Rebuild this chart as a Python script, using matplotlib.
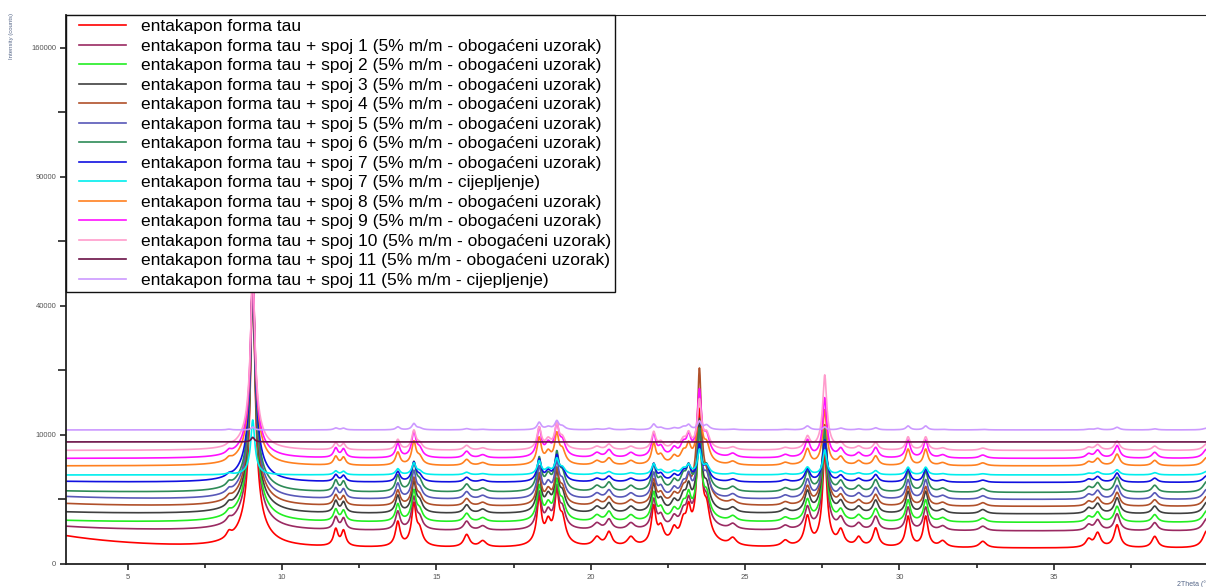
import numpy as np
import matplotlib
matplotlib.use("Agg")
import matplotlib.pyplot as plt
from matplotlib.legend_handler import HandlerLine2D

# ---------------- data ----------------
labels = [
    "entakapon forma tau",
    "entakapon forma tau + spoj 1 (5% m/m - obogaćeni uzorak)",
    "entakapon forma tau + spoj 2 (5% m/m - obogaćeni uzorak)",
    "entakapon forma tau + spoj 3 (5% m/m - obogaćeni uzorak)",
    "entakapon forma tau + spoj 4 (5% m/m - obogaćeni uzorak)",
    "entakapon forma tau + spoj 5 (5% m/m - obogaćeni uzorak)",
    "entakapon forma tau + spoj 6 (5% m/m - obogaćeni uzorak)",
    "entakapon forma tau + spoj 7 (5% m/m - obogaćeni uzorak)",
    "entakapon forma tau + spoj 7 (5% m/m - cijepljenje)",
    "entakapon forma tau + spoj 8 (5% m/m - obogaćeni uzorak)",
    "entakapon forma tau + spoj 9 (5% m/m - obogaćeni uzorak)",
    "entakapon forma tau + spoj 10 (5% m/m - obogaćeni uzorak)",
    "entakapon forma tau + spoj 11 (5% m/m - obogaćeni uzorak)",
    "entakapon forma tau + spoj 11 (5% m/m - cijepljenje)",
]
colors = ["#ff0000", "#9a2a62", "#22ee22", "#404040", "#b0502a", "#5858b8",
          "#2e8b57", "#1010e0", "#00eeee", "#ff8020", "#ff10ff", "#ff9ccc",
          "#6a1046", "#cc99ff"]

# stacking baseline of each pattern (counts, as read on the axis)
baseline_counts = [150, 655, 1037, 1505, 1989, 2500, 3069, 3994, 4761,
                   5776, 6691, 7744, 8949, 10795]
background_counts = 150
low_angle_rise = [330, 100, 40, 40, 60, 60, 30, 20, 0, 0, 0, 0, 0, 0]
minor_scale = [1.0, 0.65, 0.6, 0.6, 0.5, 0.5, 0.55, 0.3, 0.15, 0.4, 0.45,
               0.3, 0.0, 0.07]

# strong reflections: position (°2θ) and height for each pattern
strong_pos = [9.05, 23.52, 27.58]
strong_fwhm = [0.12, 0.12, 0.12]
h_9 = [52750, 46790, 43970, 41240, 38920, 36810, 34760, 31910, 2860,
       27490, 25590, 23640, 100, 60]
h_23 = [14060, 9500, 6900, 7080, 13960, 4220, 3540, 1550, 850,
        4380, 4100, 2490, 0, 200]
h_27 = [7660, 6700, 6250, 6190, 5540, 4220, 3540, 1890, 850,
        2950, 3350, 4850, 0, 60]

# weaker reflections of the tau form (heights of the reference pattern)
peak_pos = [8.28, 11.74, 11.99, 13.75, 14.27, 14.45, 15.98, 16.5, 18.33,
            18.62, 18.90, 19.08, 20.2, 20.59, 21.3, 22.04, 22.27, 22.7,
            23.0, 23.17, 23.75, 24.6, 26.3, 27.02, 28.1, 28.68, 29.23,
            30.28, 30.85, 31.4, 32.7, 36.13, 36.42, 37.05, 38.27, 39.95]
peak_height = [210, 550, 480, 900, 2000, 500, 350, 150, 2500, 850, 3000,
               1000, 250, 430, 250, 1800, 600, 500, 800, 1500, 1500, 200,
               150, 1200, 500, 250, 600, 1200, 1200, 150, 150, 200, 420,
               760, 300, 500]
peak_fwhm = [0.18, 0.15, 0.15, 0.15, 0.14, 0.2, 0.2, 0.25, 0.14, 0.2, 0.14,
             0.2, 0.25, 0.2, 0.25, 0.14, 0.2, 0.2, 0.2, 0.15, 0.2, 0.25,
             0.25, 0.18, 0.2, 0.2, 0.18, 0.15, 0.15, 0.25, 0.25, 0.2, 0.2,
             0.18, 0.2, 0.25]

x_ticks = [5, 10, 15, 20, 25, 30, 35]
y_ticks = [0, 10000, 40000, 90000, 160000]

# ---------------- drawing ----------------
two_theta = np.arange(3.0, 41.0, 0.01)


def lorentz(x, pos, height, fwhm):
    g = fwhm / 2.0
    return height * g * g / ((x - pos) ** 2 + g * g)


plt.rcParams["font.family"] = ["Liberation Sans", "DejaVu Sans"]
fig = plt.figure(figsize=(12.06, 5.87), dpi=100)
ax = fig.add_axes([66 / 1206, 23 / 587, 1173 / 1206, 549 / 587])
ax.set_yscale("function",
              functions=(lambda v: np.sqrt(np.clip(v, 0, None)),
                         lambda v: np.square(v)))

for i in range(len(labels)):
    inten = background_counts + low_angle_rise[i] * np.exp(-(two_theta - 3.0) / 2.0)
    for p, h, w in zip(peak_pos, peak_height, peak_fwhm):
        inten = inten + lorentz(two_theta, p, minor_scale[i] * h, w)
    for p, h, w in zip(strong_pos, [h_9[i], h_23[i], h_27[i]], strong_fwhm):
        inten = inten + lorentz(two_theta, p, h, w)
    shifted = (np.sqrt(baseline_counts[i]) - np.sqrt(background_counts)
               + np.sqrt(inten)) ** 2
    ax.plot(two_theta, shifted, color=colors[i], lw=1.2, label=labels[i],
            solid_joinstyle="round")

ax.set_xlim(3, 41)
ax.set_ylim(0, 181000)
ax.set_xticks(x_ticks)
ax.set_xticks([7.5, 12.5, 17.5, 22.5, 27.5, 32.5, 37.5], minor=True)
ax.set_yticks(y_ticks)
ax.set_yticklabels([str(v) for v in y_ticks])
ax.set_yticks([2500, 22500, 62500, 122500], minor=True)
ax.tick_params(axis="both", which="major", labelsize=5.5, labelcolor="#555555",
               color="#222222", length=4, width=1.2, direction="out", pad=3)
ax.tick_params(axis="both", which="minor", color="#222222", length=3,
               width=1.2, direction="out")
ax.tick_params(axis="y", which="minor", length=6)
for s in ["left", "bottom"]:
    ax.spines[s].set_linewidth(1.3)
    ax.spines[s].set_color("#222222")
ax.spines["top"].set_linewidth(0.8)
ax.spines["top"].set_color("#222222")
ax.spines["right"].set_visible(False)


class ShortHandle(HandlerLine2D):
    def get_xdata(self, legend, xdescent, ydescent, width, height, fontsize):
        xd, xm = super().get_xdata(legend, xdescent, ydescent, width, height,
                                   fontsize)
        xd = np.array([-xdescent + 0.15 * width, -xdescent + width])
        return xd, xm


handles, labs = ax.get_legend_handles_labels()
leg = ax.legend(handles, labs, loc="upper left", bbox_to_anchor=(0, 1),
                borderaxespad=0, fontsize=12.5, handlelength=3.2,
                handletextpad=0.85, labelspacing=0.25, borderpad=0.25,
                fancybox=False, framealpha=1, edgecolor="#111111",
                handler_map={plt.Line2D: ShortHandle()})
leg.get_frame().set_linewidth(1.0)
for line in leg.get_lines():
    line.set_linewidth(1.2)

fig.text(12 / 1206, 1 - 13 / 587, "Intensity (counts)", rotation=90,
         ha="center", va="top", fontsize=4.3, color="#556688")
fig.text(1177 / 1206, 1 - 584 / 587, "2Theta (°)", ha="left", va="center",
         fontsize=5, color="#556688")

fig.savefig("out.png", dpi=100)
